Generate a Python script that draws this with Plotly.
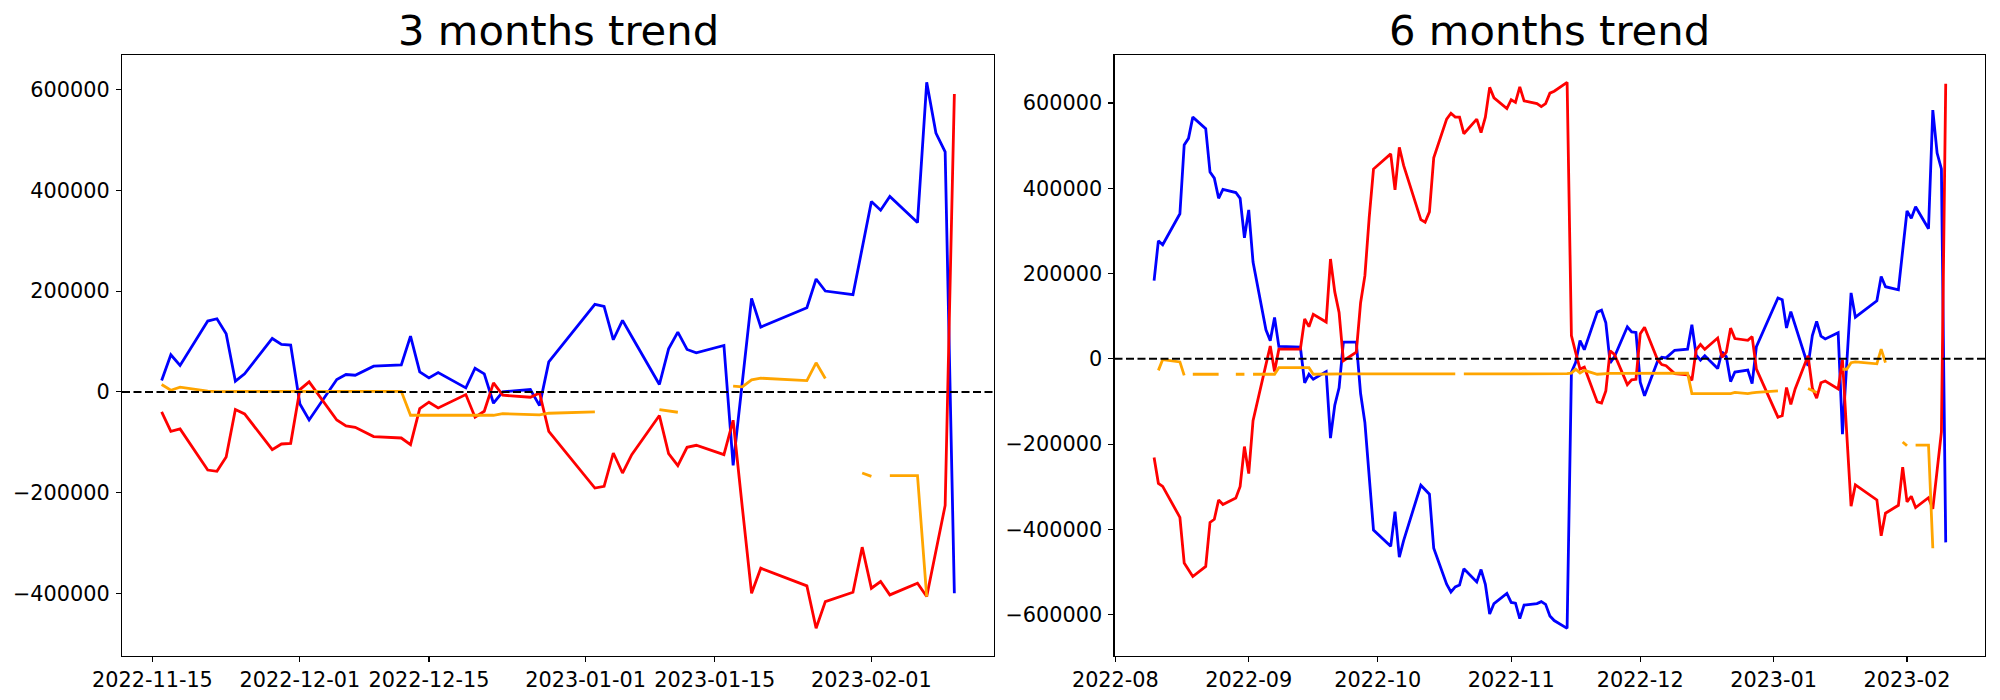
import plotly.graph_objects as go

NaN = None

# ---------------- 3 months data ----------------
dates_3m = [
    "2022-11-16", "2022-11-17", "2022-11-18", "2022-11-21", "2022-11-22", "2022-11-23", "2022-11-24", "2022-11-25",
    "2022-11-28", "2022-11-29", "2022-11-30", "2022-12-01", "2022-12-02",
    "2022-12-05", "2022-12-06", "2022-12-07", "2022-12-09",
    "2022-12-12", "2022-12-13", "2022-12-14", "2022-12-15", "2022-12-16",
    "2022-12-19", "2022-12-20", "2022-12-21", "2022-12-22", "2022-12-23",
    "2022-12-26", "2022-12-27", "2022-12-28",
    "2023-01-02", "2023-01-03", "2023-01-04", "2023-01-05", "2023-01-06",
    "2023-01-09", "2023-01-10", "2023-01-11", "2023-01-12", "2023-01-13",
    "2023-01-16", "2023-01-17", "2023-01-18", "2023-01-19", "2023-01-20",
    "2023-01-25", "2023-01-26", "2023-01-27",
    "2023-01-30", "2023-01-31", "2023-02-01", "2023-02-02", "2023-02-03",
    "2023-02-06", "2023-02-07", "2023-02-08", "2023-02-09", "2023-02-10",
]
blue_3m = [
    22500, 73600, 52400, 140500, 145100, 115300, 21200, 35800,
    106000, 94100, 92800, -23900, -55700,
    24500, 34500, 33100, 51000,
    53700, 110700, 39800, 27800, 38400,
    8000, 47000, 35800, -22500, 0,
    4600, -27200, 59600,
    173600, 169600, 103400, 141800, 110000,
    14600, 85500, 118600, 84200, 77500,
    92100, -145800, 20000, 185600, 128600,
    167000, 224000, 200100,
    192800, 285000, 377700, 360500, 387700,
    336000, 614300, 513600, 476500, -399600,
]
red_3m = [
    -39800, -78200, -73600, -155100, -157700, -129200, -35100, -43700,
    -114600, -103400, -102100, 4600, 19900,
    -55700, -67600, -70200, -88800,
    -91500, -104700, -33100, -20500, -31800,
    -5300, -50400, -38400, 17900, -6600,
    -10600, -2000, -78200,
    -190900, -187500, -121300, -161000, -124600,
    -47000, -122600, -146500, -110000, -106000,
    -124600, -56300, -230000, -399600, -349900,
    -385000, -469200, -416200,
    -397600, -308200, -389700, -376400, -402900,
    -379700, -406200, -315000, -225300, 591100,
]
orange_3m = [
    14600, 3300, 9300, 1300, 500, 800, 800, 800,
    800, 800, 800, 800, 1000,
    1000, 1000, 1000, 1000,
    1000, -46400, -46400, -46400, -46400,
    -46400, -46400, -46400, -46400, -43100,
    -45700, -45700, -42400,
    -39800, NaN, NaN, NaN, NaN,
    -35100, -38000, -40400, NaN, NaN,
    NaN, 11300, 9900, 23900, 27200,
    22500, 57700, 26500,
    NaN, -161000, -167700, NaN, -166300,
    -166300, -406200, NaN, NaN, NaN,
]

# ---------------- 6 months data ----------------
dates_6m = [
    "2022-08-10", "2022-08-11", "2022-08-12", "2022-08-16", "2022-08-17", "2022-08-18", "2022-08-19",
    "2022-08-22", "2022-08-23", "2022-08-24", "2022-08-25", "2022-08-26",
    "2022-08-29", "2022-08-30", "2022-08-31", "2022-09-01", "2022-09-02",
    "2022-09-05", "2022-09-06", "2022-09-07", "2022-09-08",
    "2022-09-13", "2022-09-14", "2022-09-15", "2022-09-16",
    "2022-09-19", "2022-09-20", "2022-09-21", "2022-09-22", "2022-09-23",
    "2022-09-26", "2022-09-27", "2022-09-28", "2022-09-29", "2022-09-30",
    "2022-10-04", "2022-10-05", "2022-10-06", "2022-10-07",
    "2022-10-11", "2022-10-12", "2022-10-13", "2022-10-14",
    "2022-10-17", "2022-10-18", "2022-10-19", "2022-10-20", "2022-10-21",
    "2022-10-24", "2022-10-25", "2022-10-26", "2022-10-27", "2022-10-28",
    "2022-10-31", "2022-11-01", "2022-11-02", "2022-11-03", "2022-11-04",
    "2022-11-07", "2022-11-08", "2022-11-09", "2022-11-10", "2022-11-11",
    "2022-11-14", "2022-11-15",
    "2022-11-16", "2022-11-17", "2022-11-18", "2022-11-21", "2022-11-22", "2022-11-23", "2022-11-24", "2022-11-25",
    "2022-11-28", "2022-11-29", "2022-11-30", "2022-12-01", "2022-12-02",
    "2022-12-05", "2022-12-06", "2022-12-07", "2022-12-09",
    "2022-12-12", "2022-12-13", "2022-12-14", "2022-12-15", "2022-12-16",
    "2022-12-19", "2022-12-20", "2022-12-21", "2022-12-22", "2022-12-23",
    "2022-12-26", "2022-12-27", "2022-12-28",
    "2023-01-02", "2023-01-03", "2023-01-04", "2023-01-05", "2023-01-06",
    "2023-01-09", "2023-01-10", "2023-01-11", "2023-01-12", "2023-01-13",
    "2023-01-16", "2023-01-17", "2023-01-18", "2023-01-19", "2023-01-20",
    "2023-01-25", "2023-01-26", "2023-01-27",
    "2023-01-30", "2023-01-31", "2023-02-01", "2023-02-02", "2023-02-03",
    "2023-02-06", "2023-02-07", "2023-02-08", "2023-02-09", "2023-02-10",
]
blue_6m = [
    183200, 276600, 267600, 340100, 501600, 517000, 566900,
    539700, 438100, 423600, 376400, 397300,
    390000, 376400, 283900, 349200, 226800,
    68000, 42600, 97000, 29000,
    27200, -56200, -36300, -48100,
    -29900, -185900, -108800, -68000, 39000,
    39000, -81600, -149700, -285700, -401800,
    -439900, -358300, -465300, -426300,
    -296600, -308400, -317500, -444400,
    -528800, -546900, -535100, -530600, -492500,
    -523300, -494300, -528800, -598600, -574100,
    -550500, -571400, -573200, -609500, -577800,
    -574100, -569600, -575900, -603200, -614000,
    -632200, -31700,
    -8500, 42600, 21400, 109500, 114100, 84300, -9800, 4800,
    75000, 63100, 61800, -54900, -86700,
    -6500, 3500, 2100, 20000,
    22700, 79700, 8800, -3200, 7400,
    -23000, 16000, 4800, -53500, -31000,
    -26400, -58200, 28600,
    142600, 138600, 72400, 110800, 79000,
    -16400, 54500, 87600, 53200, 46500,
    61100, -176800, -11000, 154600, 97600,
    136000, 193000, 169100,
    161800, 254000, 346700, 329500, 356700,
    305000, 583300, 482600, 445500, -430600,
]
red_6m = [
    -231300, -292100, -299300, -371900, -478900, -495000, -510600,
    -487100, -383700, -376400, -331100, -341900,
    -326500, -299300, -205900, -269400, -145100,
    -13600, 29900, -29900, 22700,
    22700, 93400, 75300, 104300,
    86200, 234000, 156900, 108800, -4500,
    15400, 131500, 195000, 331100, 445000,
    480700, 396400, 496100, 453500,
    326500, 320200, 344700, 471600,
    562300, 575900, 566900, 566900, 527900,
    562300, 530600, 566900, 636700, 612200,
    586800, 607700, 601300, 637600, 605000,
    598600, 591400, 598600, 623100, 627600,
    648500, 54400,
    14200, -24200, -19600, -101100, -103700, -75200, 18900, 10300,
    -60600, -49400, -48100, 58600, 73900,
    -1700, -13600, -16200, -34800,
    -37500, -50700, 20900, 33500, 22200,
    48700, 3600, 15600, 71900, 47400,
    43400, 52000, -24200,
    -136900, -133500, -67300, -107000, -70600,
    7000, -68600, -92500, -56000, -52000,
    -70600, -2300, -176000, -345600, -295900,
    -331000, -415200, -362200,
    -343600, -254200, -335700, -322400, -348900,
    -325700, -352200, -261000, -171300, 645100,
]
orange_6m = [
    NaN, -27200, -1800, -7300, -39000, NaN, -36300,
    -36300, -36300, -36300, -36300, NaN,
    -36300, -36300, -36300, NaN, -36300,
    -36300, -36300, -36300, -20900,
    -20900, -20900, -20900, -36300,
    -35500, -35500, -35500, -35500, -35500,
    -35500, -35500, -35500, -35500, -35500,
    -35500, -35500, -35500, -35500,
    -35500, -35500, -35500, -35500,
    -35500, -35500, -35500, NaN, -35500,
    -35500, -35500, -35500, -35500, -35500,
    -35000, -35000, -35000, -35000, -35000,
    -35000, -35000, -35000, -35000, -35000,
    -35000, -33600,
    -24500, -33600, -27200, -36300, -35000, -34500, -34000, -34000,
    -34000, -34000, -34000, -34000, -33600,
    -33600, -33600, -33600, -33600,
    -33600, -81600, -81600, -81600, -81600,
    -81600, -81600, -81600, -81600, -78900,
    -81600, -80000, -78900,
    -75300, NaN, NaN, NaN, NaN,
    -69800, -74000, -78900, NaN, NaN,
    NaN, -24500, -24500, -9100, -7300,
    -11800, 22700, -9100,
    NaN, -195000, -204100, NaN, -202300,
    -202300, -444400, NaN, NaN, NaN,
]

titles = ["3 months trend", "6 months trend"]
xtick_vals_3m = ["2022-11-15", "2022-12-01", "2022-12-15", "2023-01-01", "2023-01-15", "2023-02-01"]
xtick_text_3m = ["2022-11-15", "2022-12-01", "2022-12-15", "2023-01-01", "2023-01-15", "2023-02-01"]
xtick_vals_6m = ["2022-08-01", "2022-09-01", "2022-10-01", "2022-11-01", "2022-12-01", "2023-01-01", "2023-02-01"]
xtick_text_6m = ["2022-08", "2022-09", "2022-10", "2022-11", "2022-12", "2023-01", "2023-02"]
ytick_vals_3m = [-400000, -200000, 0, 200000, 400000, 600000]
ytick_text_3m = ["\u2212400000", "\u2212200000", "0", "200000", "400000", "600000"]
ytick_vals_6m = [-600000, -400000, -200000, 0, 200000, 400000, 600000]
ytick_text_6m = ["\u2212600000", "\u2212400000", "\u2212200000", "0", "200000", "400000", "600000"]

FONT = "DejaVu Sans"
LW = 2.8

fig = go.Figure()

def add_panel(dates, blue, red, orange, xa, ya):
    for vals, col in ((blue, "blue"), (red, "red"), (orange, "orange")):
        fig.add_trace(go.Scatter(x=dates, y=vals, mode="lines", xaxis=xa, yaxis=ya,
                                 line=dict(color=col, width=LW), connectgaps=False,
                                 showlegend=False, hoverinfo="skip"))

add_panel(dates_3m, blue_3m, red_3m, orange_3m, "x", "y")
add_panel(dates_6m, blue_6m, red_6m, orange_6m, "x2", "y2")

ydom = [0.0634, 0.9214]
xdom1 = [0.061, 0.497]
xdom2 = [0.55725, 0.99265]

axis_common = dict(showgrid=False, zeroline=False, showline=True, mirror=True,
                   linecolor="black", linewidth=1.1, ticks="outside", ticklen=5,
                   tickwidth=1.1, tickcolor="black", automargin=False,
                   tickfont=dict(family=FONT, size=20.8, color="black"))

fig.update_layout(
    width=2000, height=700,
    margin=dict(l=0, r=0, t=0, b=0, pad=0, autoexpand=False),
    paper_bgcolor="white", plot_bgcolor="white",
    xaxis=dict(domain=xdom1, anchor="y", type="date",
               range=["2022-11-11 16:48", "2023-02-14 07:12"],
               tickmode="array", tickvals=xtick_vals_3m, ticktext=xtick_text_3m, **axis_common),
    yaxis=dict(domain=ydom, anchor="x", range=[-523400, 668500], ticklabelstandoff=2,
               tickmode="array", tickvals=ytick_vals_3m, ticktext=ytick_text_3m, **axis_common),
    xaxis2=dict(domain=xdom2, anchor="y2", type="date",
                range=["2022-07-31 19:12", "2023-02-19 04:48"],
                tickmode="array", tickvals=xtick_vals_6m, ticktext=xtick_text_6m, **axis_common),
    yaxis2=dict(domain=ydom, anchor="x2", range=[-696200, 712500], ticklabelstandoff=2,
                tickmode="array", tickvals=ytick_vals_6m, ticktext=ytick_text_6m, **axis_common),
)

for xr, yr in (("x", "y"), ("x2", "y2")):
    fig.add_shape(type="line", xref=f"{xr} domain", x0=0, x1=1, yref=yr, y0=0, y1=0,
                  line=dict(color="black", width=2, dash="8px,3.5px"), layer="above")

for title, dom in zip(titles, (xdom1, xdom2)):
    fig.add_annotation(text=title, xref="paper", yref="paper",
                       x=(dom[0] + dom[1]) / 2, y=ydom[1], xanchor="center", yanchor="bottom",
                       yshift=-2, showarrow=False,
                       font=dict(family=FONT, size=41.7, color="black"))

fig.write_html(
    "out.html",
    config=dict(displayModeBar=False, staticPlot=True),
    post_script="document.body.style.margin='0';document.body.style.overflow='hidden';",
)
